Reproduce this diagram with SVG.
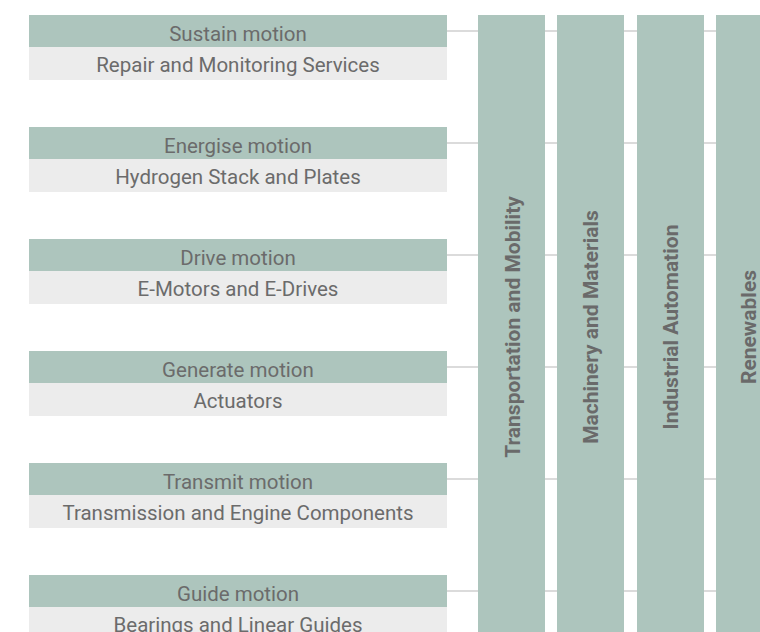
<svg xmlns="http://www.w3.org/2000/svg" width="760" height="632" viewBox="0 0 760 632">
<style>
.h{fill:#adc5bd}
.s{fill:#ececec}
.col{fill:#adc5bd}
.t{font-family:Roboto,"Noto Sans","Liberation Sans",sans-serif;font-size:20.5px;text-anchor:middle;fill:#6b6b6b}
.v{font-family:Roboto,"Noto Sans","Liberation Sans",sans-serif;font-size:21px;font-weight:bold;text-anchor:middle;fill:#6a6a6a}
.ln{stroke:#cfcfcf;stroke-width:1.5;fill:none}
</style>
<rect width="760" height="632" fill="#fff"/>
<g id="connectors">
<line class="ln" x1="447" y1="31" x2="760" y2="31"/>
<line class="ln" x1="447" y1="143" x2="760" y2="143"/>
<line class="ln" x1="447" y1="255" x2="760" y2="255"/>
<line class="ln" x1="447" y1="367" x2="760" y2="367"/>
<line class="ln" x1="447" y1="479" x2="760" y2="479"/>
<line class="ln" x1="447" y1="591" x2="760" y2="591"/>
</g>
<g id="col-transport"><rect class="col" x="478" y="15" width="67" height="620"/><text class="v" transform="translate(519.5,327) rotate(-90)">Transportation and Mobility</text></g>
<g id="col-machinery"><rect class="col" x="557" y="15" width="67" height="620"/><text class="v" transform="translate(598,327) rotate(-90)">Machinery and Materials</text></g>
<g id="col-industrial"><rect class="col" x="637" y="15" width="67" height="620"/><text class="v" transform="translate(678,327) rotate(-90)">Industrial Automation</text></g>
<g id="col-renewables"><rect class="col" x="716" y="15" width="67" height="620"/><text class="v" transform="translate(756,327) rotate(-90)">Renewables</text></g>
<g id="node-sustain"><rect class="h" x="29" y="15" width="418" height="32"/><rect class="s" x="29" y="47" width="418" height="33"/><text class="t" x="238" y="40.5">Sustain motion</text><text class="t" x="238" y="72">Repair and Monitoring Services</text></g>
<g id="node-energise"><rect class="h" x="29" y="127" width="418" height="32"/><rect class="s" x="29" y="159" width="418" height="33"/><text class="t" x="238" y="152.5">Energise motion</text><text class="t" x="238" y="184">Hydrogen Stack and Plates</text></g>
<g id="node-drive"><rect class="h" x="29" y="239" width="418" height="32"/><rect class="s" x="29" y="271" width="418" height="33"/><text class="t" x="238" y="264.5">Drive motion</text><text class="t" x="238" y="296">E-Motors and E-Drives</text></g>
<g id="node-generate"><rect class="h" x="29" y="351" width="418" height="32"/><rect class="s" x="29" y="383" width="418" height="33"/><text class="t" x="238" y="376.5">Generate motion</text><text class="t" x="238" y="408">Actuators</text></g>
<g id="node-transmit"><rect class="h" x="29" y="463" width="418" height="32"/><rect class="s" x="29" y="495" width="418" height="33"/><text class="t" x="238" y="488.5">Transmit motion</text><text class="t" x="238" y="520">Transmission and Engine Components</text></g>
<g id="node-guide"><rect class="h" x="29" y="575" width="418" height="32"/><rect class="s" x="29" y="607" width="418" height="33"/><text class="t" x="238" y="600.5">Guide motion</text><text class="t" x="238" y="632">Bearings and Linear Guides</text></g>
</svg>
